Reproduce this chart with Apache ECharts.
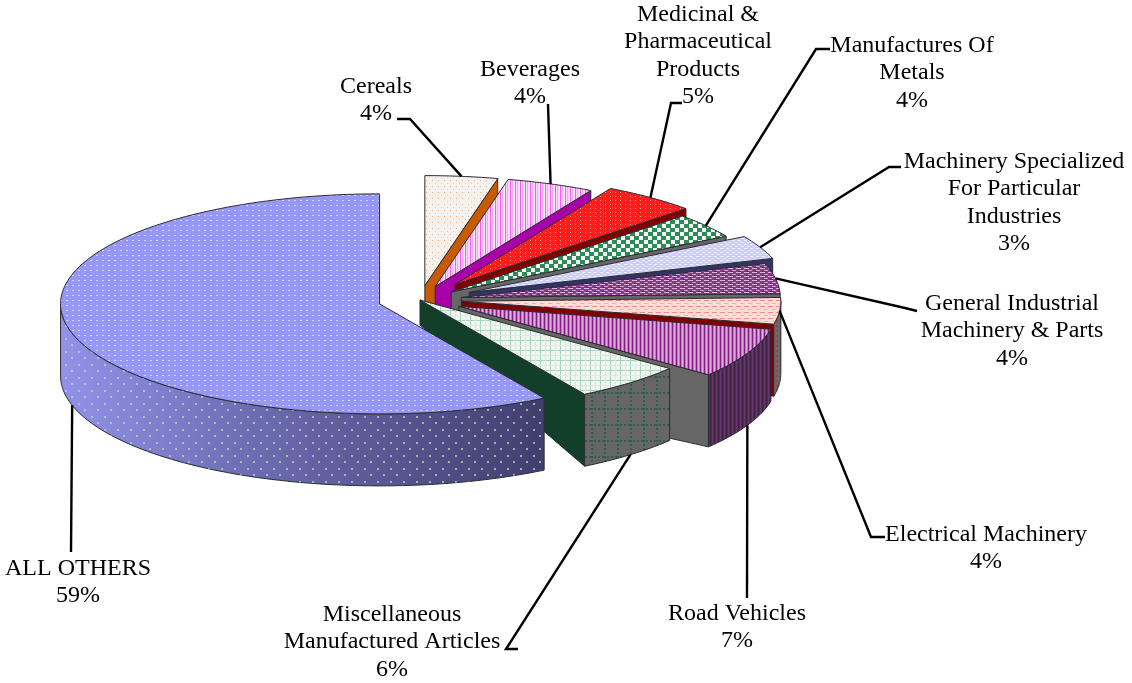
<!DOCTYPE html>
<html>
<head>
<meta charset="utf-8">
<style>
  html, body { margin: 0; padding: 0; background: #fff; }
  #chart { width: 1132px; height: 683px; }
</style>
<script src="https://cdn.jsdelivr.net/npm/echarts@6/dist/echarts.min.js"></script>
</head>
<body>
<div id="chart"></div>
<script>
// clockwise from 12 o'clock, same order as they are painted
const categories = ['Cereals', 'Beverages', 'Medicinal &\nPharmaceutical\nProducts', 'Manufactures Of\nMetals',
  'Machinery Specialized\nFor Particular\nIndustries', 'General Industrial\nMachinery & Parts', 'Electrical Machinery',
  'Road Vehicles', 'Miscellaneous\nManufactured Articles', 'ALL OTHERS'];
const values = [3.67, 4.44, 4.78, 3.65, 3.47, 4.44, 3.89, 7.36, 5.67, 58.63];

// 3D look
const CX = 420, CY = 300, RX = 319, RY = 110, DEPTH = 72;
const explode = [42, 42, 57, 39, 54, 42, 42, 43, 0, 42];
const apexDepth = [60, 60, 60, 60, 60, 60, 60, 85, 25, 25];

// label anchor (centre x, top y), then the end and elbow of each leader
const labelPos = [[376, 73], [530, 56], [698, 1], [912, 32], [1014, 148], [1012, 290], [986, 521], [737, 600], [392, 601], [78, 555]];
const leaderEnd = [[397, 119], [548, 104], [682, 103], [830, 49], [901, 167], [917, 311], [885, 537], [747, 598], [518, 649], [71, 552]];
const leaderElbow = [[410, 119], [548, 104], [671, 103], [816, 49], [889, 167], [905, 308], [871, 537], [747, 598], [506, 649], [71, 552]];

function tile(w, h, bg, rects) {
  const c = document.createElement('canvas');
  c.width = w; c.height = h;
  const g = c.getContext('2d');
  if (bg) { g.fillStyle = bg; g.fillRect(0, 0, w, h); }
  rects.forEach(r => { g.fillStyle = r[4]; g.fillRect(r[0], r[1], r[2], r[3]); });
  return { image: c, repeat: 'repeat' };
}

const topFill = [
  tile(6, 6, '#f5f1ee', [[0, 0, 1, 1, '#f2ae78'], [3, 3, 1, 1, '#f6cfae']]),
  tile(5, 4, '#fbd6fb', [[0, 0, 1, 4, '#f060f0'], [2, 0, 1, 4, '#f8a8f8'], [4, 0, 1, 4, '#fdeefd']]),
  tile(5, 4, '#ff1e1e', [[0, 0, 1, 1, '#ff9a9a']]),
  tile(9, 8, '#f4f8f4', [[0, 0, 5, 4, '#2e8b57'], [4, 4, 5, 4, '#2e8b57']]),
  tile(6, 4, '#ccccff', [[0, 0, 3, 1, '#f0f0ff'], [3, 2, 3, 1, '#e6e6ff']]),
  tile(8, 4, '#8a3a8a', [[0, 0, 5, 1, '#dcb4dc'], [4, 2, 5, 1, '#cfa0cf'], [2, 3, 3, 1, '#6e1f6e']]),
  tile(8, 6, '#ffdcd6', [[0, 0, 5, 1, '#f58a8a'], [4, 3, 4, 1, '#fbb0b0']]),
  tile(4, 4, '#bb78bb', [[0, 0, 1, 4, '#8a1a8a'], [2, 0, 1, 4, '#d8b4d8']]),
  tile(10, 10, '#f0f5f0', [[0, 0, 10, 1, '#a4d2ba'], [0, 0, 1, 10, '#a4d2ba'], [5, 0, 1, 10, '#dde9e0'], [0, 5, 10, 1, '#dde9e0']]),
  tile(6, 5, '#9797f7', [[0, 0, 2, 1, '#d4d4ff']])
];
const edgeWall = ['#c85a00', '#aa00aa', '#800000', '#666666', '#333366', '#666666', '#800000', '#666666', '#123f2a', '#46467a'];
const green = '#2f5f4a';
const rimWall = [null, null, null, null, null, null,
  tile(4, 5, '#6a6a6a', [[0, 0, 2, 2, '#a04040']]),
  tile(4, 4, '#4a3350', [[0, 0, 1, 4, '#6d3570'], [2, 0, 1, 4, '#38243e']]),
  tile(13, 16, '#666666', [[6, 0, 2, 2, green], [6, 4, 2, 2, green], [6, 8, 2, 2, green], [6, 12, 2, 2, green],
    [0, 8, 2, 2, green], [4, 8, 2, 2, green], [9, 8, 2, 2, green]]),
  new echarts.graphic.LinearGradient(0, 0, 1, 0, [
    { offset: 0, color: '#9292ea' }, { offset: 0.4, color: '#6c6cb2' }, { offset: 1, color: '#3f3f6e' }])
];
const wallDots = tile(13, 13, null, [[0, 0, 2, 2, 'rgba(205,205,190,0.75)'], [6, 6, 2, 2, 'rgba(205,205,190,0.75)']]);

const total = values.reduce((a, b) => a + b, 0);
const rad = d => d * Math.PI / 180;
const startAngle = [];
values.reduce((sum, v, i) => { startAngle[i] = sum / total * 360; return sum + v; }, 0);

function geom(i) {
  const from = startAngle[i], to = from + values[i] / total * 360, mid = (from + to) / 2;
  const ax = CX + explode[i] * Math.sin(rad(mid));
  const ay = CY - explode[i] * Math.cos(rad(mid)) * RY / RX;
  const rim = a => [ax + RX * Math.sin(rad(a)), ay - RY * Math.cos(rad(a))];
  return { from, to, mid, ax, ay, rim };
}
function arc(g, from, to) {
  const pts = [], n = Math.max(2, Math.ceil((to - from) / 1.5));
  for (let k = 0; k <= n; k++) pts.push(g.rim(from + (to - from) * k / n));
  return pts;
}
const edge = { stroke: '#2c2c34', lineWidth: 1 };

function renderSlice(params) {
  const i = params.dataIndex, g = geom(i), kids = [];
  const poly = (points, fill, line) => kids.push({
    type: 'polygon', shape: { points }, style: Object.assign({ fill }, line === false ? { stroke: null } : edge)
  });
  // wall under the clockwise edge, only for the right hand slices
  if (i < values.length - 1) {
    const r = g.rim(g.to);
    poly([[g.ax, g.ay], r, [r[0], r[1] + DEPTH], [g.ax, g.ay + apexDepth[i]]], edgeWall[i]);
  }
  // outer wall is seen only on the front half
  const a0 = Math.max(g.from, 90), a1 = Math.min(g.to, 270);
  if (a1 > a0 && rimWall[i]) {
    const upper = arc(g, a0, a1);
    const lower = upper.map(p => [p[0], p[1] + DEPTH]).reverse();
    poly(upper.concat(lower), rimWall[i]);
    if (i === values.length - 1) poly(upper.concat(lower), { image: wallDots.image, repeat: 'repeat' }, false);
  }
  poly([[g.ax, g.ay]].concat(arc(g, g.from, g.to)), topFill[i]);
  return { type: 'group', children: kids };
}

function renderLabel(params) {
  const i = params.dataIndex, g = geom(i);
  const r = g.rim(g.mid);
  // leaders of the front slices land on the lower rim
  const hit = g.mid > 100 ? [r[0], r[1] + DEPTH] : r;
  return {
    type: 'group',
    children: [
      { type: 'polyline', shape: { points: [leaderEnd[i], leaderElbow[i], hit] },
        style: { stroke: '#000', lineWidth: 2.4, fill: null } },
      { type: 'text', style: {
        text: categories[i] + '\n' + Math.round(values[i]) + '%',
        x: labelPos[i][0], y: labelPos[i][1], align: 'center', verticalAlign: 'top',
        font: '24px "Liberation Serif"', lineHeight: 27.4, fill: '#000'
      } }
    ]
  };
}

const chart = echarts.init(document.getElementById('chart'), null, { renderer: 'canvas' });
chart.setOption({
  animation: false,
  backgroundColor: '#fff',
  series: [
    { type: 'custom', coordinateSystem: 'none', renderItem: renderSlice, data: values, silent: true, z: 2 },
    { type: 'custom', coordinateSystem: 'none', renderItem: renderLabel, data: values, silent: true, z: 3 }
  ]
});
</script>
</body>
</html>
